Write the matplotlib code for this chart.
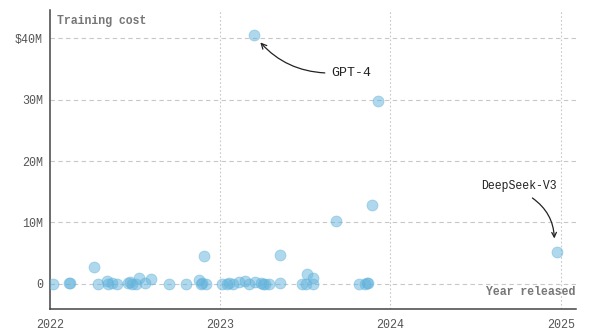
import matplotlib.pyplot as plt

# release date (decimal year) and training cost (millions of USD)
release = [
    2022.02, 2022.114, 2022.115, 2022.26, 2022.284, 2022.337, 2022.343, 2022.367,
    2022.396, 2022.46, 2022.472, 2022.484, 2022.507, 2022.525, 2022.56, 2022.595,
    2022.70, 2022.80, 2022.877, 2022.886, 2022.892, 2022.906, 2022.918,
    2023.012, 2023.041, 2023.05, 2023.076, 2023.111, 2023.147, 2023.17, 2023.205,
    2023.199, 2023.24, 2023.252, 2023.264, 2023.287, 2023.352, 2023.352,
    2023.481, 2023.504, 2023.51, 2023.545, 2023.545, 2023.68,
    2023.815, 2023.85, 2023.862, 2023.868, 2023.891, 2023.927, 2024.977,
]
cost = [
    0.0, 0.1, 0.2, 2.8, 0.0, 0.5, 0.0, 0.1,
    0.0, 0.1, 0.3, 0.0, 0.0, 1.0, 0.2, 0.8,
    0.0, 0.0, 0.6, 0.0, 0.1, 4.5, 0.0,
    0.0, 0.0, 0.1, 0.0, 0.3, 0.5, 0.0, 0.3,
    40.5, 0.1, 0.0, 0.0, 0.0, 4.7, 0.1,
    0.0, 0.0, 1.7, 1.0, 0.0, 10.2,
    0.0, 0.0, 0.1, 0.2, 12.8, 29.8, 5.25,
]

year_ticks = [2022, 2023, 2024, 2025]
cost_ticks = [0, 10, 20, 30, 40]
cost_labels = ["0", "10M", "20M", "30M", "$40M"]

mono = "Liberation Mono"
grey = "#555555"

fig = plt.figure(figsize=(5.92, 3.35), dpi=100)
ax = fig.add_axes([0.0845, 0.0776, 0.8885, 0.8924])

ax.scatter(release, cost, s=62, color="#62b3dc", alpha=0.5,
           edgecolor="#62b3dc", linewidth=0.6, zorder=3)

ax.set_xlim(2022.0, 2025.09)
ax.set_ylim(-4.07, 44.55)

ax.set_xticks(year_ticks)
ax.set_xticklabels([str(y) for y in year_ticks])
ax.set_yticks(cost_ticks)
ax.set_yticklabels(cost_labels)
ax.tick_params(length=0, labelsize=8.4, labelcolor=grey)
ax.tick_params(axis="x", pad=7)
ax.tick_params(axis="y", pad=5)
for lab in ax.get_xticklabels() + ax.get_yticklabels():
    lab.set_fontfamily(mono)

for y in cost_ticks:
    ax.axhline(y, color="#c8c8c8", lw=0.8, ls=(0, (4, 3)), zorder=1)
for x in year_ticks[1:]:
    ax.axvline(x, color="#c8c8c8", lw=0.8, ls=(0, (1.5, 2)), zorder=1)

for side in ["top", "right"]:
    ax.spines[side].set_visible(False)
ax.spines["left"].set_color("#444444")
ax.spines["bottom"].set_color("#444444")
ax.spines["left"].set_linewidth(1.1)
ax.spines["bottom"].set_linewidth(1.1)

ax.text(0.013, 0.985, "Training cost", transform=ax.transAxes, ha="left",
        va="top", fontsize=8.3, fontweight="bold", color="#777777",
        family=mono)
ax.text(0.998, 0.038, "Year released", transform=ax.transAxes, ha="right",
        va="bottom", fontsize=8.3, fontweight="bold", color="#777777",
        family=mono)

ax.annotate("GPT-4", xy=(2023.199, 40.5), xytext=(2023.655, 34.3),
            ha="left", va="center", fontsize=9.5, color="#222222", family=mono,
            arrowprops=dict(arrowstyle="->", color="#222222", lw=0.9,
                            relpos=(0, 0.5), shrinkA=3, shrinkB=7,
                            connectionstyle="arc3,rad=-0.25"))
ax.annotate("DeepSeek-V3", xy=(2024.96, 5.6), xytext=(2024.754, 15.9),
            ha="center", va="center", fontsize=8.3, color="#222222",
            family=mono,
            arrowprops=dict(arrowstyle="->", color="#222222", lw=0.9,
                            relpos=(0.55, 0), shrinkA=4, shrinkB=8,
                            connectionstyle="arc3,rad=-0.35"))

fig.savefig("out.png", dpi=100)
plt.close("all")
